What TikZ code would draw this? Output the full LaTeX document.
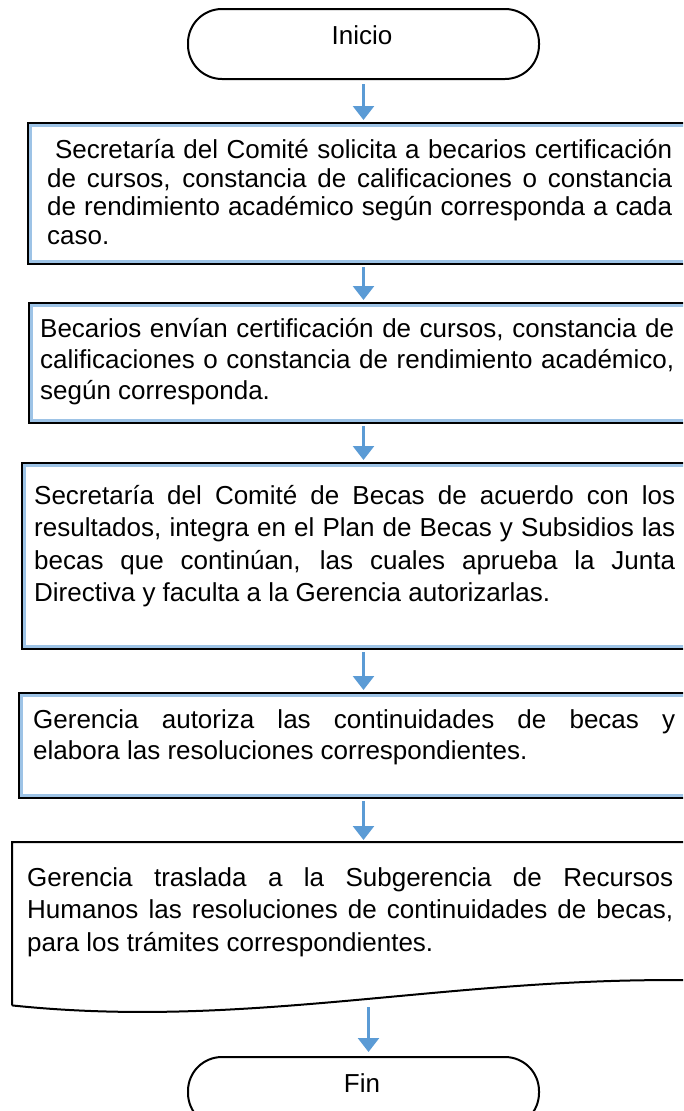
\documentclass[tikz,border=0pt]{standalone}
\usepackage{fontspec}
\setmainfont{Liberation Sans}
\usetikzlibrary{arrows.meta,calc}
\definecolor{arrowblue}{HTML}{5B9BD5}
\definecolor{innerblue}{HTML}{9DC3E6}
\hyphenpenalty=10000
\exhyphenpenalty=10000
\emergencystretch=20pt
\begin{document}
\begin{tikzpicture}[x=1pt,y=-1pt,
  term/.style={draw=black,line width=2pt,rounded corners=34pt,minimum width=351pt,minimum height=70pt,inner sep=0pt,anchor=north west},
  procbox/.style={draw=black,line width=2.2pt,inner sep=0pt,anchor=north west},
  docbox/.style={inner sep=0pt,anchor=north west},
  inner/.style={draw=innerblue,line width=2.5pt},
  txt/.style={inner sep=0pt,anchor=west,align=justify,font=\fontsize{26}{31}\selectfont},
  lbl/.style={inner sep=0pt,font=\fontsize{26}{31}\selectfont},
  arr/.style={draw=arrowblue,line width=2.6pt,-{Triangle[width=21pt,length=14pt]}},
]
\useasboundingbox (0,0) rectangle (683,1111);
\clip (0,0) rectangle (683,1111);

% terminals
\node[term] (ini) at (187,8) {};
\node[lbl] (inilbl) at (362,35) {Inicio};
\node[term] (fin) at (187,1056) {};
\node[lbl] (finlbl) at (362,1083) {Fin};

% process boxes
\node[procbox,minimum width=673pt,minimum height=141pt] (b1) at (27,122) {};
\draw[inner] ($(b1.north west)+(3.5,3.5)$) rectangle ($(b1.south east)+(-3.5,-3.5)$);
\node[procbox,minimum width=672pt,minimum height=120pt] (b2) at (28,302) {};
\draw[inner] ($(b2.north west)+(3.5,3.5)$) rectangle ($(b2.south east)+(-3.5,-3.5)$);
\node[procbox,minimum width=679pt,minimum height=186pt] (b3) at (21,462) {};
\draw[inner] ($(b3.north west)+(3.5,3.5)$) rectangle ($(b3.south east)+(-3.5,-3.5)$);
\node[procbox,minimum width=682pt,minimum height=105pt] (b4) at (18,692) {};
\draw[inner] ($(b4.north west)+(3.5,3.5)$) rectangle ($(b4.south east)+(-3.5,-3.5)$);

% document box
\node[docbox,minimum width=688pt,minimum height=163pt] (b5) at (12,842) {};
\draw[line width=2pt] (b5.south west) -- (b5.north west) -- (b5.north east)
  -- ($(b5.south east)+(0,-25)$)
  .. controls ($(b5.south west)+(438,-30)$) and ($(b5.south west)+(238,25)$) .. (b5.south west);

% texts
\node[txt,text width=625pt,font=\fontsize{26}{28.5}\selectfont] (t1) at (47,192)
 {\hspace*{0.3em}Secretaría del Comité solicita a becarios certificación\linebreak de cursos, constancia de calificaciones o constancia\linebreak de rendimiento académico según corresponda a cada\linebreak caso.};
\node[txt,text width=634pt] (t2) at (40,362)
 {Becarios envían certificación de cursos, constancia de\linebreak calificaciones o constancia de rendimiento académico,\linebreak según corresponda.};
\node[txt,text width=641pt,font=\fontsize{26}{32.5}\selectfont] (t3) at (34,546)
 {Secretaría del Comité de Becas de acuerdo con los\linebreak resultados, integra en el Plan de Becas y Subsidios las\linebreak becas que continúan, las cuales aprueba la Junta\linebreak Directiva y faculta a la Gerencia autorizarlas.};
\node[txt,text width=642pt] (t4) at (33,737)
 {Gerencia autoriza las continuidades de becas y\linebreak elabora las resoluciones correspondientes.};
\node[txt,text width=646pt,font=\fontsize{26}{32.5}\selectfont] (t5) at (27,912)
 {Gerencia traslada a la Subgerencia de Recursos\linebreak Humanos las resoluciones de continuidades de becas,\linebreak para los trámites correspondientes.};

% connectors
\draw[arr] ($(ini.south)+(0,4)$) -- ($(ini.south |- b1.north)+(0,-2)$);
\draw[arr] ($(ini.south |- b1.south)+(0,2)$) -- ($(ini.south |- b2.north)+(0,-2)$);
\draw[arr] ($(ini.south |- b2.south)+(0,2)$) -- ($(ini.south |- b3.north)+(0,-2)$);
\draw[arr] ($(ini.south |- b3.south)+(0,2)$) -- ($(ini.south |- b4.north)+(0,-2)$);
\draw[arr] ($(ini.south |- b4.south)+(0,2)$) -- ($(ini.south |- b5.north)+(0,-2)$);
\draw[arr] ($(fin.north |- b5.south)+(5,2)$) -- ($(fin.north)+(5,-4)$);
\end{tikzpicture}
\end{document}
